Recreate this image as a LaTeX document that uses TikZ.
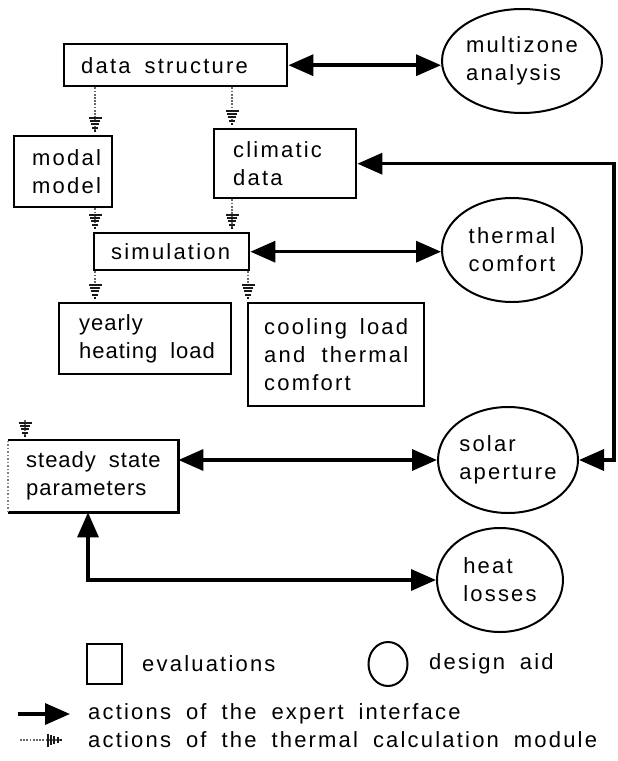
\documentclass[tikz,border=0pt]{standalone}
\usepackage{fontspec}
\setmainfont{Liberation Sans}[LetterSpace=10.0,WordSpace=1.8]
\usetikzlibrary{arrows.meta,shapes.geometric,calc}
\tikzset{
  Hatch/.tip={Bar[width=13pt,line width=2.2pt,sep=1.1pt,color=black!90]
              Bar[width=10.5pt,line width=2.2pt,sep=1.1pt,color=black!90]
              Bar[width=8pt,line width=2.2pt,sep=1.1pt,color=black!90]
              Bar[width=5.5pt,line width=2.2pt,sep=1.1pt,color=black!90]
              Bar[width=2.5pt,line width=2.2pt,color=black!90]},
  txt/.style={font=\fontsize{22}{28}\selectfont},
  evalbox/.style={txt, draw, line width=2.4pt, rectangle, anchor=north west, align=left, inner ysep=0pt},
  aid/.style={txt, draw, ellipse, line width=2pt, inner sep=0pt, align=left},
  expert/.style={line width=3.5pt, {Triangle[length=25pt,width=21pt]}-{Triangle[length=25pt,width=21pt]}},
  expertone/.style={line width=3.5pt, -{Triangle[length=25pt,width=21pt]}},
  thermal/.style={draw=black!60, line width=1.5pt, dash pattern=on 1.8pt off 1.4pt, -{Hatch}, shorten >=3pt},
  lbl/.style={txt, anchor=west, inner sep=0pt},
}
\begin{document}
\begin{tikzpicture}[x=1pt,y=-1pt]
\useasboundingbox (0,0) rectangle (618,761);

% evaluation boxes
\node[evalbox, text width=189pt, inner xsep=17pt, minimum height=42pt] (ds) at (63,43) {data\hspace{14pt}structure};
\node[evalbox, text width=62pt, inner xsep=18pt, minimum height=71pt] (mm) at (13,135) {modal\\model};
\node[evalbox, text width=104pt, inner xsep=19pt, minimum height=69pt] (cd) at (213,128) {climatic\\data};
\node[evalbox, text width=121pt, inner xsep=17pt, minimum height=37pt] (sim) at (93,232) {simulation};
\node[evalbox, text width=132pt, inner xsep=20pt, minimum height=71pt] (yh) at (58,302) {\addfontfeatures{LetterSpace=4.5}yearly\\\mbox{heating\hspace{13pt}load}};
\node[evalbox, text width=144pt, inner xsep=16pt, minimum height=103pt] (cl) at (247,302) {cooling\hfill load\\and\hfill thermal\\comfort};
\node[evalbox, draw=none, text width=134pt, inner xsep=17pt, minimum height=70pt] (ss) at (8,440) {\addfontfeatures{LetterSpace=4.5}\mbox{steady\hspace{13pt}state}\\parameters};
\draw[line width=2.4pt] (ss.north west) -- (ss.north east) -- (ss.south east) -- (ss.south west);
\draw[line width=1.5pt, dotted, black!50] (ss.south west) -- (ss.north west);

% design aids
\node[aid, minimum width=160pt, minimum height=104pt] (mz) at (522,61) {multizone\\analysis};
\node[aid, minimum width=140pt, minimum height=104pt] (tc) at (512,250) {thermal\\comfort};
\node[aid, minimum width=140pt, minimum height=106pt] (sa) at (508,460) {solar\\aperture};
\node[aid, minimum width=126pt, minimum height=104pt] (hl) at (500,580) {heat\\losses};

% expert interface actions
\draw[expert] (ds.east) -- (ds.east -| mz.west);
\draw[expert] (sim.east) -- (sim.east -| tc.west);
\draw[expert] (sa.west -| ss.east) -- (sa.west);
\coordinate (rt) at (614,0);
\draw[expert] (cd.east) -- (cd.east -| rt) -- (sa.east -| rt) -- (sa.east);
\coordinate (bl) at (88,0);
\draw[expert] (hl.west) -| (bl |- ss.south);

% thermal calculation module actions
\coordinate (xa) at (95,0);
\coordinate (xb) at (232,0);
\coordinate (xc) at (248,0);
\coordinate (xs) at (25,420);
\draw[thermal] (xa |- ds.south) -- (xa |- mm.north);
\draw[thermal] (xb |- ds.south) -- (xb |- cd.north);
\draw[thermal] (xa |- mm.south) -- (xa |- sim.north);
\draw[thermal] (xb |- cd.south) -- (xb |- sim.north);
\draw[thermal] (xa |- sim.south) -- (xa |- yh.north);
\draw[thermal] (xc |- sim.south) -- (xc |- cl.north);
\draw[thermal] (xs) -- (xs |- ss.north);

% legend
\node[draw, line width=2pt, minimum width=35pt, minimum height=40pt, inner sep=0pt] (lsq) at (104.5,664) {};
\node[lbl] (lev) at (142,664) {evaluations};
\node[draw, ellipse, line width=2pt, minimum width=39pt, minimum height=44pt, inner sep=0pt] (lci) at (388,664) {};
\node[lbl] (lda) at (429,664) {design aid};
\coordinate (la1) at (18,714);
\coordinate (la2) at (70,714);
\draw[expertone] (la1) -- (la2);
\node[lbl] (lt1) at (88,714) {actions of the expert interface};
\coordinate (lb1) at (20,740);
\coordinate (lb2) at (62,740);
\draw[thermal, shorten >=0pt] (lb1) -- (lb2);
\node[lbl] (lt2) at (88,740) {actions of the thermal calculation module};
\end{tikzpicture}
\end{document}
